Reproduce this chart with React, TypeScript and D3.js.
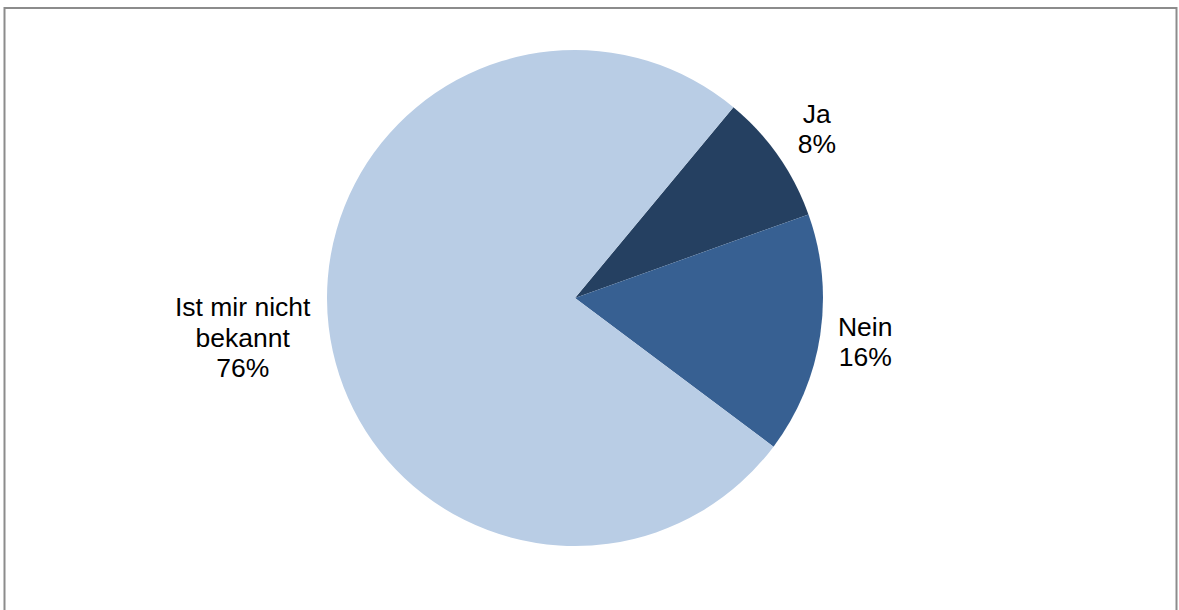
import React from "react";
import * as d3 from "d3";

const categories = ["Ja", "Nein", "Ist mir nicht bekannt"];
const values = [8.5, 15.7, 75.8];
const labelLines = [["Ja", "8%"], ["Nein", "16%"], ["Ist mir nicht", "bekannt", "76%"]];
const colors = ["#254061", "#376092", "#B9CDE5"];

const W = 1179;
const H = 610;
const CX = 575;
const CY = 298;
const R = 248;
const START_DEG = 39.7;
const FONT = 26.5;
const LINE_H = 30.5;
const GAP = 14;

function measure(text: string): number {
  if (typeof document === "undefined") return text.length * FONT * 0.5;
  const c = document.createElement("canvas").getContext("2d");
  if (!c) return text.length * FONT * 0.5;
  c.font = `${FONT}px "Liberation Sans", Arial, sans-serif`;
  return c.measureText(text).width;
}

export default function App() {
  const start = (START_DEG * Math.PI) / 180;
  const pie = d3
    .pie<number>()
    .sort(null)
    .value((d) => d)
    .startAngle(start)
    .endAngle(start + 2 * Math.PI);
  const arcs = pie(values);
  const arc = d3.arc<d3.PieArcDatum<number>>().innerRadius(0).outerRadius(R);

  return (
    <svg
      width={W}
      height={H}
      style={{ position: "absolute", left: 0, top: 0, display: "block" }}
      fontFamily='"Liberation Sans", Arial, sans-serif'
    >
      <rect x={0} y={0} width={W} height={H} fill="#ffffff" />
      <rect
        x={4.5}
        y={8}
        width={1172}
        height={H + 20}
        fill="#ffffff"
        stroke="#8c8c8c"
        strokeWidth={2}
      />
      <g transform={`translate(${CX},${CY})`}>
        {arcs.map((a, i) => (
          <path key={categories[i]} d={arc(a) || ""} fill={colors[i]} />
        ))}
        {arcs.map((a, i) => {
          const mid = (a.startAngle + a.endAngle) / 2;
          const sx = Math.sin(mid);
          const sy = -Math.cos(mid);
          const lines = labelLines[i];
          const hw = Math.max(...lines.map(measure)) / 2;
          const hh = (lines.length * LINE_H) / 2;
          const dist = R + GAP + Math.abs(sx) * hw + Math.abs(sy) * hh;
          const x = sx * dist;
          const y = sy * dist;
          const top = y - hh;
          return (
            <text
              key={"l" + i}
              textAnchor="middle"
              fontSize={FONT}
              fill="#000000"
            >
              {lines.map((t, j) => (
                <tspan key={j} x={x} y={top + j * LINE_H + LINE_H * 0.5} dy="0.35em">
                  {t}
                </tspan>
              ))}
            </text>
          );
        })}
      </g>
    </svg>
  );
}
